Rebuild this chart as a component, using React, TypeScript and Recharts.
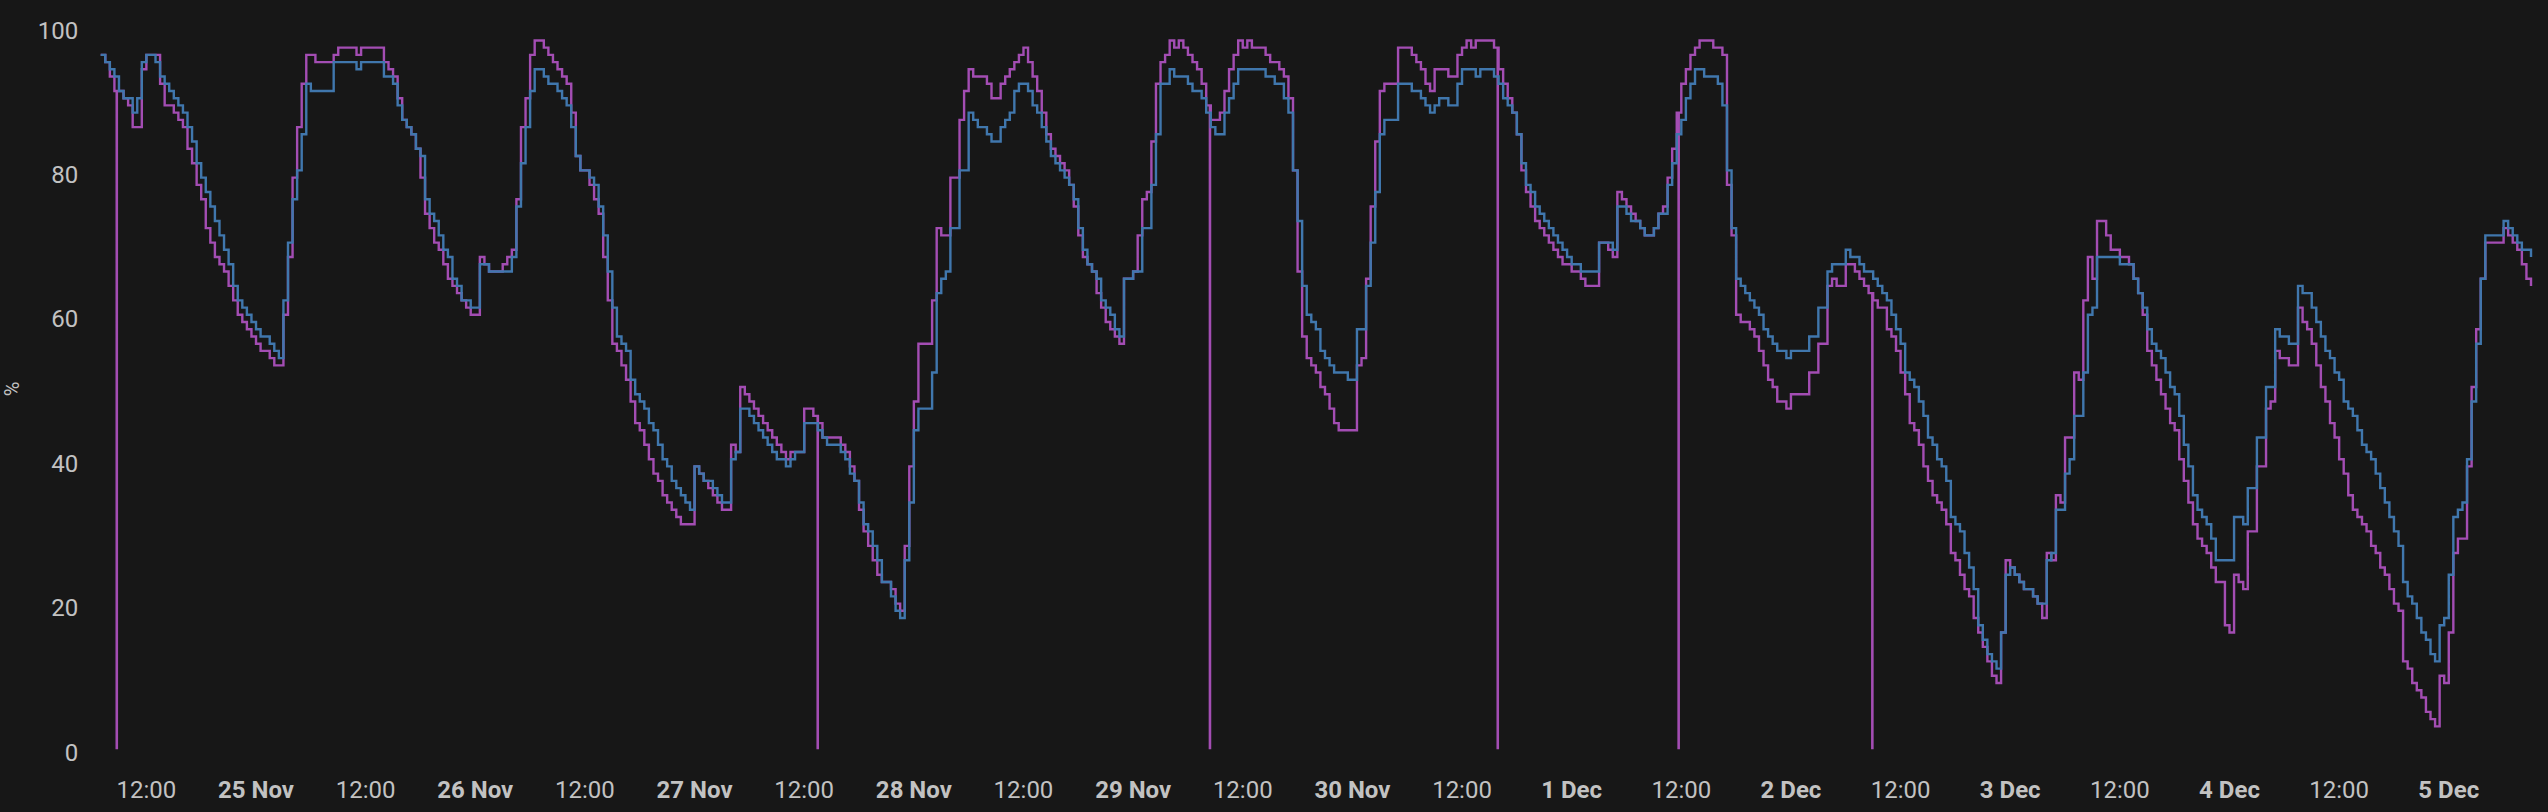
import React from 'react';
import { LineChart, Line, XAxis, YAxis } from 'recharts';

// Time is measured in hours from 25 Nov 00:00; one reading every half hour starting at START_HOUR.
const START_HOUR = -17;
const STEP_HOURS = 0.5;

const blueValues = [
  96, 95, 94, 93, 91, 90, 90, 88, 90, 95,
  96, 96, 95, 93, 92, 91, 90, 89, 88, 86,
  84, 81, 79, 77, 75, 73, 71, 69, 67, 64,
  62, 61, 60, 59, 58, 57, 57, 56, 55, 54,
  62, 70, 76, 80, 85, 92, 91, 91, 91, 91,
  91, 95, 95, 95, 95, 95, 94, 95, 95, 95,
  95, 95, 93, 93, 92, 89, 87, 86, 85, 83,
  82, 76, 74, 73, 71, 69, 68, 65, 64, 62,
  62, 61, 61, 67, 67, 66, 66, 66, 66, 66,
  68, 75, 81, 86, 91, 94, 94, 93, 92, 92,
  91, 90, 89, 86, 82, 80, 80, 79, 78, 75,
  71, 66, 61, 57, 56, 55, 51, 49, 48, 47,
  45, 44, 42, 40, 39, 37, 36, 35, 34, 33,
  39, 38, 37, 37, 36, 35, 34, 34, 40, 41,
  47, 47, 46, 45, 44, 43, 42, 41, 40, 40,
  39, 40, 41, 41, 45, 45, 45, 44, 43, 42,
  42, 42, 41, 40, 38, 37, 34, 31, 30, 28,
  26, 23, 23, 21, 19, 18, 26, 34, 44, 47,
  47, 47, 52, 63, 65, 66, 72, 72, 80, 80,
  88, 87, 86, 86, 85, 84, 84, 86, 87, 88,
  91, 92, 92, 91, 89, 88, 86, 84, 82, 81,
  80, 79, 78, 76, 72, 69, 67, 66, 65, 62,
  61, 60, 58, 57, 65, 65, 66, 66, 72, 72,
  78, 85, 92, 92, 94, 93, 93, 93, 92, 91,
  91, 90, 88, 86, 85, 85, 88, 90, 92, 94,
  94, 94, 94, 94, 94, 93, 93, 92, 92, 90,
  88, 80, 73, 64, 60, 59, 58, 55, 54, 53,
  52, 52, 52, 51, 51, 58, 58, 64, 70, 77,
  85, 87, 87, 87, 92, 92, 92, 91, 91, 90,
  89, 88, 89, 90, 90, 89, 89, 92, 94, 94,
  94, 93, 94, 94, 94, 93, 92, 90, 89, 88,
  85, 81, 78, 77, 75, 74, 73, 72, 71, 70,
  69, 68, 67, 67, 66, 66, 66, 66, 70, 70,
  70, 69, 75, 75, 74, 73, 73, 72, 71, 71,
  72, 74, 74, 78, 81, 85, 87, 90, 92, 94,
  94, 93, 93, 93, 92, 89, 80, 72, 65, 64,
  63, 62, 61, 60, 58, 57, 56, 55, 55, 54,
  55, 55, 55, 55, 57, 57, 61, 61, 66, 67,
  67, 67, 69, 68, 68, 67, 66, 66, 65, 64,
  63, 62, 60, 58, 56, 52, 51, 50, 48, 46,
  43, 42, 40, 39, 37, 32, 31, 30, 27, 25,
  22, 17, 15, 13, 12, 11, 16, 24, 25, 24,
  23, 22, 22, 21, 20, 20, 26, 27, 33, 33,
  38, 40, 46, 46, 52, 60, 61, 68, 68, 68,
  68, 68, 67, 67, 67, 65, 63, 61, 58, 56,
  55, 54, 52, 50, 49, 46, 42, 39, 35, 33,
  32, 31, 29, 26, 26, 26, 26, 32, 32, 31,
  36, 36, 43, 43, 50, 50, 58, 57, 57, 56,
  56, 64, 63, 63, 61, 59, 57, 55, 54, 52,
  51, 48, 47, 46, 44, 42, 41, 40, 38, 36,
  34, 32, 30, 28, 23, 21, 20, 18, 16, 15,
  13, 12, 17, 18, 24, 32, 33, 34, 40, 48,
  56, 65, 71, 71, 71, 71, 73, 72, 71, 70,
  69, 69, 68,
];

const purpleValues = [
  96, 95, 93, 91, 91, 90, 89, 86, 86, 94,
  96, 96, 96, 92, 89, 89, 88, 87, 86, 83,
  81, 78, 76, 72, 70, 68, 67, 66, 64, 62,
  60, 59, 58, 57, 56, 55, 55, 54, 53, 53,
  60, 68, 79, 86, 92, 96, 96, 95, 95, 95,
  95, 96, 97, 97, 97, 97, 96, 97, 97, 97,
  97, 97, 95, 94, 93, 90, 87, 86, 85, 83,
  79, 74, 72, 70, 69, 67, 65, 64, 63, 62,
  61, 60, 60, 68, 67, 66, 66, 66, 67, 68,
  69, 76, 86, 90, 96, 98, 98, 97, 96, 95,
  94, 93, 92, 88, 82, 80, 80, 78, 76, 74,
  68, 62, 56, 55, 53, 51, 48, 45, 44, 42,
  40, 38, 37, 35, 34, 33, 32, 31, 31, 31,
  39, 38, 37, 36, 35, 34, 33, 33, 42, 41,
  50, 49, 48, 47, 46, 45, 44, 43, 42, 41,
  40, 41, 41, 41, 47, 47, 46, 45, 43, 43,
  43, 43, 42, 41, 39, 37, 33, 30, 28, 26,
  24, 23, 23, 22, 20, 19, 28, 39, 48, 56,
  56, 56, 62, 72, 71, 71, 79, 79, 87, 91,
  94, 93, 93, 93, 92, 90, 90, 92, 93, 94,
  95, 96, 97, 95, 93, 91, 88, 85, 83, 82,
  81, 80, 78, 75, 71, 68, 67, 66, 63, 61,
  59, 58, 57, 56, 65, 65, 66, 71, 76, 77,
  84, 92, 95, 96, 98, 97, 98, 97, 96, 95,
  94, 92, 89, 87, 87, 88, 91, 94, 96, 98,
  97, 98, 97, 97, 97, 96, 95, 95, 94, 93,
  90, 80, 66, 57, 54, 53, 52, 50, 49, 47,
  45, 44, 44, 44, 44, 53, 54, 65, 75, 84,
  91, 92, 92, 92, 97, 97, 97, 96, 95, 94,
  92, 91, 94, 94, 94, 93, 93, 96, 97, 98,
  97, 98, 98, 98, 98, 97, 94, 92, 90, 88,
  85, 80, 77, 75, 73, 72, 71, 70, 69, 68,
  67, 67, 66, 66, 65, 64, 64, 64, 70, 70,
  69, 68, 77, 76, 75, 74, 73, 72, 71, 71,
  72, 74, 75, 79, 83, 88, 92, 94, 96, 97,
  98, 98, 98, 97, 97, 96, 78, 71, 60, 59,
  59, 58, 57, 55, 53, 51, 50, 48, 48, 47,
  49, 49, 49, 49, 52, 52, 56, 56, 64, 65,
  64, 64, 67, 67, 66, 65, 64, 63, 62, 61,
  61, 58, 57, 55, 52, 49, 45, 44, 42, 39,
  37, 35, 34, 33, 31, 27, 26, 24, 22, 21,
  18, 16, 14, 12, 10, 9, 16, 26, 25, 24,
  23, 22, 22, 21, 20, 18, 27, 26, 35, 34,
  43, 43, 52, 51, 62, 68, 65, 73, 73, 71,
  69, 69, 68, 68, 67, 65, 63, 60, 55, 53,
  51, 49, 47, 45, 44, 40, 37, 34, 31, 29,
  28, 27, 25, 23, 23, 17, 16, 24, 23, 22,
  30, 30, 39, 39, 47, 48, 55, 54, 54, 53,
  53, 61, 59, 58, 56, 53, 50, 48, 45, 43,
  40, 38, 35, 33, 32, 31, 30, 28, 27, 25,
  24, 22, 20, 19, 12, 11, 9, 8, 7, 5,
  4, 3, 10, 9, 16, 27, 29, 29, 39, 50,
  58, 65, 70, 70, 70, 70, 72, 71, 70, 69,
  67, 65, 64,
];

// Moments (hours from 25 Nov 00:00) where the purple series drops to 0 for an instant.
const purpleDropHours = [-15.25, 61.47, 104.4, 135.9, 155.7, 176.9];
const purpleDropValue = 0;

const xTickHours = [-12, 0, 12, 24, 36, 48, 60, 72, 84, 96, 108, 120, 132, 144, 156, 168, 180, 192, 204, 216, 228, 240];
const xTickLabels = [
  '12:00', '25 Nov', '12:00', '26 Nov', '12:00', '27 Nov', '12:00', '28 Nov', '12:00', '29 Nov', '12:00',
  '30 Nov', '12:00', '1 Dec', '12:00', '2 Dec', '12:00', '3 Dec', '12:00', '4 Dec', '12:00', '5 Dec',
];
const yTicks = [0, 20, 40, 60, 80, 100];

const BG = '#171717';
const TEXT = '#c2c2c2';
const BLUE = '#4077AD';
const PURPLE = '#A34DB3';
const FONT = 'Roboto, "Noto Sans", sans-serif';

type Row = { t: number; blue: number; purple: number };

function buildRows(): Row[] {
  const rows: Row[] = blueValues.map((b, i) => ({ t: START_HOUR + i * STEP_HOURS, blue: b, purple: purpleValues[i] }));
  for (const s of purpleDropHours) {
    const idx = Math.floor((s - START_HOUR) / STEP_HOURS);
    const base = rows[idx];
    rows.push({ t: s, blue: base.blue, purple: purpleDropValue });
    rows.push({ t: s + 0.02, blue: base.blue, purple: base.purple });
  }
  rows.sort((a, b) => a.t - b.t);
  return rows;
}

const rows = buildRows();
const lastHour = START_HOUR + (blueValues.length - 1) * STEP_HOURS;

const XTick = (props: any) => {
  const { x, y, payload } = props;
  const i = xTickHours.indexOf(payload.value);
  const label = i >= 0 ? xTickLabels[i] : '';
  const bold = !label.includes(':');
  return (
    <text x={x} y={y + 50} textAnchor="middle" fill={TEXT} fontSize={24} fontFamily={FONT} fontWeight={bold ? 700 : 400}>
      {label}
    </text>
  );
};

const YTick = (props: any) => {
  const { x, y, payload } = props;
  return (
    <text x={x - 22.5} y={y + 12.5} textAnchor="end" fill={TEXT} fontSize={24} fontFamily={FONT}>
      {payload.value}
    </text>
  );
};

const PctLabel = () => (
  <text
    x={0}
    y={0}
    transform="translate(19, 389) rotate(-90)"
    textAnchor="middle"
    fill={TEXT}
    fontSize={20}
    fontFamily={FONT}
  >
    %
  </text>
);

export default function App() {
  return (
    <div style={{ position: 'fixed', left: 0, top: 0, width: 2548, height: 812, background: BG }}>
      <LineChart width={2548} height={812} data={rows} margin={{ top: 26, right: 17, bottom: 0, left: 0 }}>
        <XAxis
          dataKey="t"
          type="number"
          domain={[START_HOUR, lastHour]}
          ticks={xTickHours}
          interval={0}
          tick={<XTick />}
          tickSize={0}
          tickMargin={0}
          axisLine={false}
          tickLine={false}
          height={64}
        />
        <YAxis
          type="number"
          domain={[0, 100]}
          ticks={yTicks}
          interval={0}
          tick={<YTick />}
          tickSize={0}
          tickMargin={0}
          axisLine={false}
          tickLine={false}
          width={100.7}
          label={<PctLabel />}
        />
        <Line
          type="stepAfter"
          dataKey="purple"
          stroke={PURPLE}
          strokeWidth={2.4}
          dot={false}
          activeDot={false}
          isAnimationActive={false}
        />
        <Line
          type="stepAfter"
          dataKey="blue"
          stroke={BLUE}
          strokeWidth={2.4}
          dot={false}
          activeDot={false}
          isAnimationActive={false}
        />
      </LineChart>
    </div>
  );
}
